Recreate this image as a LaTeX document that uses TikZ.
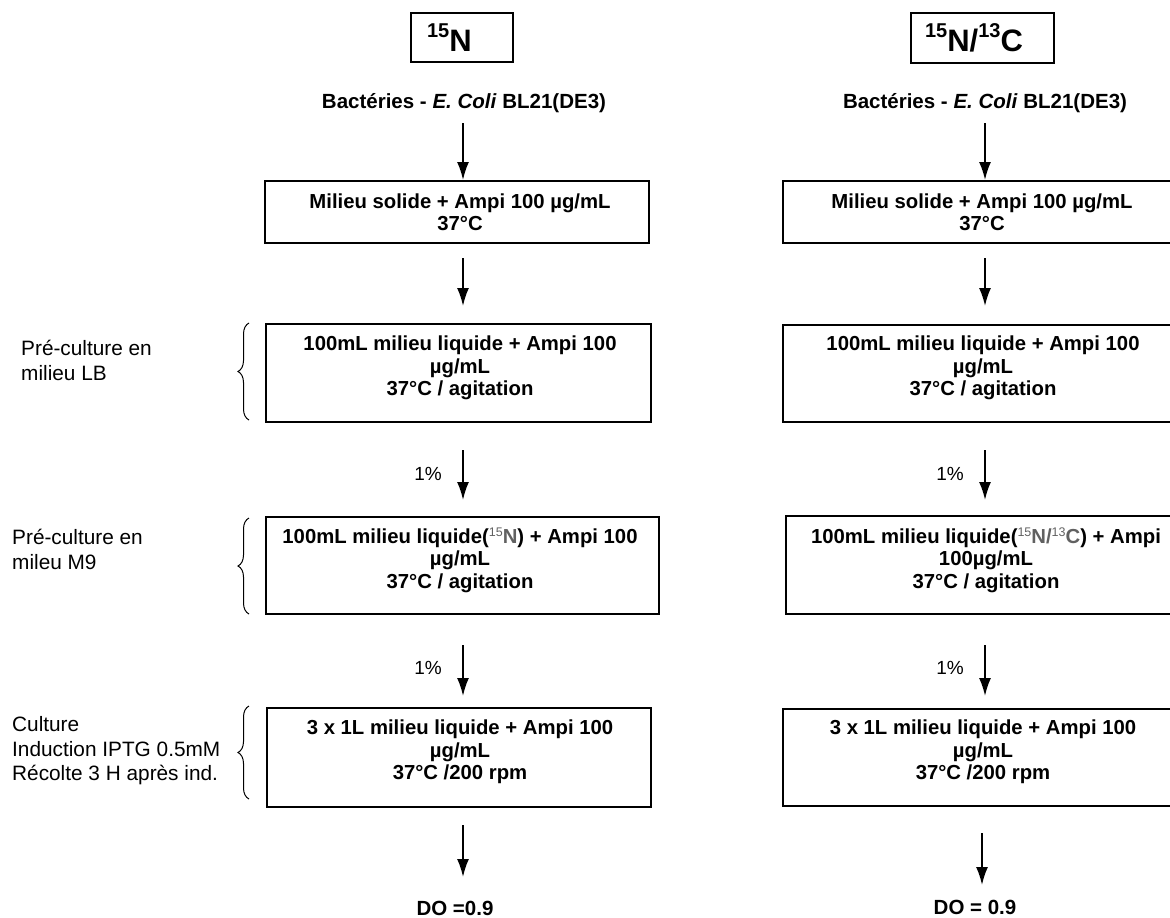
\documentclass[tikz,border=0pt]{standalone}
\usepackage{fontspec}
\setmainfont{Liberation Sans}
\usetikzlibrary{arrows.meta,decorations.pathreplacing}
\definecolor{isogray}{gray}{0.38}
\newcommand{\isosup}[1]{\raisebox{7.5pt}{\fontsize{12.5}{12.5}\selectfont\mdseries #1}}
\newcommand{\hdsup}[1]{\raisebox{14pt}{\fontsize{20}{20}\selectfont #1}}
\begin{document}
\begin{tikzpicture}[x=1pt,y=-1pt,
  boxst/.style={draw, line width=1.6pt, inner sep=0pt, rectangle},
  hdbox/.style={draw, line width=1.6pt, rectangle, align=left, inner ysep=0pt,
                font=\fontsize{31}{31}\selectfont\bfseries},
  boxtxt/.style={align=center, inner sep=0pt, font=\fontsize{20.3}{22.3}\selectfont\bfseries},
  bold/.style={inner sep=0pt, font=\fontsize{20.5}{22}\selectfont\bfseries},
  side/.style={align=left, anchor=west, inner sep=0pt, font=\fontsize{20.8}{24.5}\selectfont},
  pct/.style={inner sep=0pt, font=\fontsize{19}{20}\selectfont},
  arr/.style={line width=1.8pt, -{Latex[length=18pt,width=12pt]}},
  brc/.style={line width=1pt, decorate, decoration={brace, amplitude=11pt}}]
\useasboundingbox (0,0) rectangle (1170,918);
\clip (0,0) rectangle (1170,918);

% headers
\node[hdbox, minimum height=49pt, text width=70pt, inner xsep=16pt] (hdL) at (462,37.5) {\hdsup{15}N};
\node[hdbox, minimum height=50pt, text width=115pt, inner xsep=14pt] (hdR) at (982.5,38) {\hdsup{15}N/\hdsup{13}C};

% bacteria
\node[bold] (bactL) at (464,103) {Bactéries - \textit{E. Coli} BL21(DE3)};
\node[bold] (bactR) at (985,103) {Bactéries - \textit{E. Coli} BL21(DE3)};

% left column boxes
\node[boxst, minimum width=384pt, minimum height=62pt] (solidL) at (457,212) {};
\node[boxtxt] (tSolidL) at (460,212) {Milieu solide + Ampi 100 µg/mL\\37°C};
\node[boxst, minimum width=385pt, minimum height=98pt] (lbL) at (458.5,373) {};
\node[boxtxt] (tLbL) at (460,368) {100mL milieu liquide + Ampi 100\\µg/mL\\37°C / agitation};
\node[boxst, minimum width=393pt, minimum height=97pt] (m9L) at (462.5,565.5) {};
\node[boxtxt] (tM9L) at (460,560) {100mL milieu liquide(\isosup{\color{isogray}15}{\color{isogray}N}) + Ampi 100\\µg/mL\\37°C / agitation};
\node[boxst, minimum width=384pt, minimum height=99pt] (cultL) at (459,757.5) {};
\node[boxtxt] (tCultL) at (460,752) {3 x 1L milieu liquide + Ampi 100\\µg/mL\\37°C /200 rpm};

% right column boxes
\node[boxst, minimum width=402pt, minimum height=62pt] (solidR) at (984,212) {};
\node[boxtxt] (tSolidR) at (982,212) {Milieu solide + Ampi 100 µg/mL\\37°C};
\node[boxst, minimum width=402pt, minimum height=97pt] (lbR) at (984,373.5) {};
\node[boxtxt] (tLbR) at (983,368) {100mL milieu liquide + Ampi 100\\µg/mL\\37°C / agitation};
\node[boxst, minimum width=403pt, minimum height=98pt] (m9R) at (987.5,565) {};
\node[boxtxt] (tM9R) at (986,560) {100mL milieu liquide(\isosup{\color{isogray}15}{\color{isogray}N/}\isosup{\color{isogray}13}{\color{isogray}C}) + Ampi\\100µg/mL\\37°C / agitation};
\node[boxst, minimum width=402pt, minimum height=97pt] (cultR) at (984,757.5) {};
\node[boxtxt] (tCultR) at (983,752) {3 x 1L milieu liquide + Ampi 100\\µg/mL\\37°C /200 rpm};

% results
\node[bold] (doL) at (455,908) {DO =0.9};
\node[bold] (doR) at (975,907) {DO = 0.9};

% side labels
\node[side] (labLB) at (21,360.5) {Pré-culture en\\milieu LB};
\node[side] (labM9) at (12,549.5) {Pré-culture en\\mileu M9};
\node[side] (labCu) at (12,751) {Culture\\Induction IPTG 0.5mM\\Récolte 3 H après ind.};

% braces
\coordinate (b1a) at (249,420); \coordinate (b1b) at (249,323);
\coordinate (b2a) at (249,614); \coordinate (b2b) at (249,518);
\coordinate (b3a) at (249,799); \coordinate (b3b) at (249,706);
\draw[brc] (b1a) -- (b1b);
\draw[brc] (b2a) -- (b2b);
\draw[brc] (b3a) -- (b3b);

% percent labels
\node[pct] (p1L) at (428,474) {1\%};
\node[pct] (p2L) at (428,668) {1\%};
\node[pct] (p1R) at (950,474) {1\%};
\node[pct] (p2R) at (950,668) {1\%};

% arrow end points
\coordinate (l1s) at (463,123); \coordinate (l1e) at (463,180);
\coordinate (l2s) at (463,258); \coordinate (l2e) at (463,306);
\coordinate (l3s) at (463,450); \coordinate (l3e) at (463,500);
\coordinate (l4s) at (463,645); \coordinate (l4e) at (463,696);
\coordinate (l5s) at (463,825); \coordinate (l5e) at (463,877);
\coordinate (r1s) at (985,123); \coordinate (r1e) at (985,180);
\coordinate (r2s) at (985,258); \coordinate (r2e) at (985,306);
\coordinate (r3s) at (985,450); \coordinate (r3e) at (985,500);
\coordinate (r4s) at (985,645); \coordinate (r4e) at (985,696);
\coordinate (r5s) at (982,833); \coordinate (r5e) at (982,885);
\foreach \c in {l1,l2,l3,l4,l5,r1,r2,r3,r4,r5} {\draw[arr] (\c s) -- (\c e);}
\end{tikzpicture}
\end{document}
